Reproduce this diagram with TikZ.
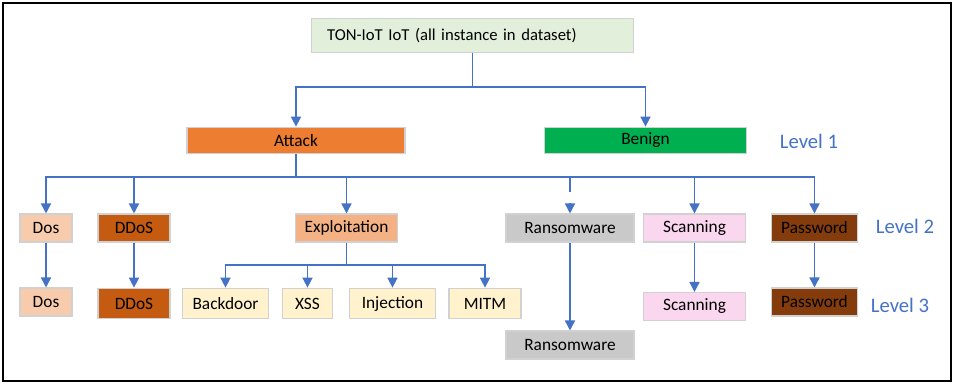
\documentclass[tikz,border=0pt]{standalone}
\usepackage{fontspec}
\setmainfont{Carlito}
\usetikzlibrary{arrows.meta}

\definecolor{linkblue}{HTML}{4472C4}
\definecolor{rootgreen}{HTML}{E2EFDA}
\definecolor{attackorange}{HTML}{ED7D31}
\definecolor{benigngreen}{HTML}{00B050}
\definecolor{dosfill}{HTML}{F8CBAD}
\definecolor{ddosfill}{HTML}{C55A11}
\definecolor{explfill}{HTML}{F4B183}
\definecolor{subfill}{HTML}{FFF2CC}
\definecolor{ransfill}{HTML}{C9C9C9}
\definecolor{scanfill}{HTML}{FAD7EF}
\definecolor{passfill}{HTML}{843C0C}

\tikzset{
  box/.style={draw=black!18, line width=0.8pt, inner sep=0pt, minimum height=21pt,
    font=\fontsize{13}{15}\selectfont},
  link/.style={draw=linkblue, line width=1.2pt},
  arr/.style={link, -{Triangle[length=7.5pt,width=7.5pt]}},
  lvl/.style={text=linkblue, font=\fontsize{15.5}{18}\selectfont},
}

\begin{document}
\begin{tikzpicture}[x=0.75pt, y=-0.75pt]
    \useasboundingbox (0,0) rectangle (954,383);
    \draw [line width=1.2pt] (3,3) rectangle (951,381);
    % root:
    \node [box, fill=rootgreen, minimum width=242pt, minimum height=26pt, text width=218pt, align=left, font=\fontsize{12.5}{14}\selectfont] (root) at (472.5,35.5) {TON-IoT IoT (all instance in dataset)};
    % level 1:
    \node [box, fill=attackorange, minimum width=163.5pt, minimum height=20pt] (attack) at (296,140.5) {Attack};
    \node [box, fill=benigngreen, minimum width=152pt, minimum height=20pt] (benign) at (645.5,140.5) {Benign};
    \node [lvl] (lvl1) at (809,141) {Level 1};
    % level 2:
    \node [box, fill=dosfill, minimum width=39pt] (dos2) at (46,228) {Dos};
    \node [box, fill=ddosfill, minimum width=54pt] (ddos2) at (134,228) {DDoS};
    \node [box, fill=explfill, minimum width=77pt] (expl2) at (346.5,228) {Exploitation};
    \node [box, fill=ransfill, minimum width=96pt] (rans2) at (570,228) {Ransomware};
    \node [box, fill=scanfill, minimum width=77pt] (scan2) at (694.5,228) {Scanning};
    \node [box, fill=passfill, minimum width=65pt] (pass2) at (814.5,228) {Password};
    \node [lvl] (lvl2) at (905,226) {Level 2};
    % level 3:
    \node [box, fill=dosfill, minimum width=39pt] (dos3) at (46,302) {Dos};
    \node [box, fill=ddosfill, minimum width=54pt, minimum height=23pt] (ddos3) at (134,303.5) {DDoS};
    \node [box, fill=subfill, minimum width=65pt, minimum height=23pt] (back3) at (225.5,303.5) {Backdoor};
    \node [box, fill=subfill, minimum width=38pt, minimum height=23pt] (xss3) at (307.5,303.5) {XSS};
    \node [box, fill=subfill, minimum width=65pt, minimum height=23pt] (inj3) at (392.5,303.5) {Injection};
    \node [box, fill=subfill, minimum width=54pt, minimum height=23pt] (mitm3) at (485,303.5) {MITM};
    \node [box, fill=ransfill, minimum width=96pt] (rans3) at (570,345) {Ransomware};
    \node [box, fill=scanfill, minimum width=77pt] (scan3) at (694.5,306.5) {Scanning};
    \node [box, fill=passfill, minimum width=65pt] (pass3) at (814.5,302) {Password};
    \node [lvl] (lvl3) at (900,305) {Level 3};
    % root to level 1:
    \coordinate (s1) at (472.5,87);
    \draw [link] (root) -- (s1);
    \draw [arr] (s1) -| (attack);
    \draw [arr] (s1) -| (benign);
    % attack to level 2:
    \coordinate (s2) at (296,177);
    \draw [link] (attack) -- (s2);
    \foreach \n in {dos2, ddos2, expl2, scan2, pass2}
      \draw [arr] (s2) -| (\n);
    \coordinate (rgap1) at (570,192);
    \coordinate (rgap2) at (570,203);
    \draw [link] (s2) -| (rgap1);
    \draw [arr] (rgap2) -- (rans2);
    % level 2 to level 3:
    \draw [arr] (dos2) -- (dos3);
    \draw [arr] (ddos2) -- (ddos3);
    \draw [arr] (rans2) -- (rans3);
    \draw [arr] (scan2) -- (scan3);
    \draw [arr] (pass2) -- (pass3);
    % exploitation:
    \coordinate (s3) at (346.5,265);
    \draw [link] (expl2) -- (s3);
    \foreach \n in {back3, xss3, inj3, mitm3}
      \draw [arr] (s3) -| (\n);
\end{tikzpicture}
\end{document}
